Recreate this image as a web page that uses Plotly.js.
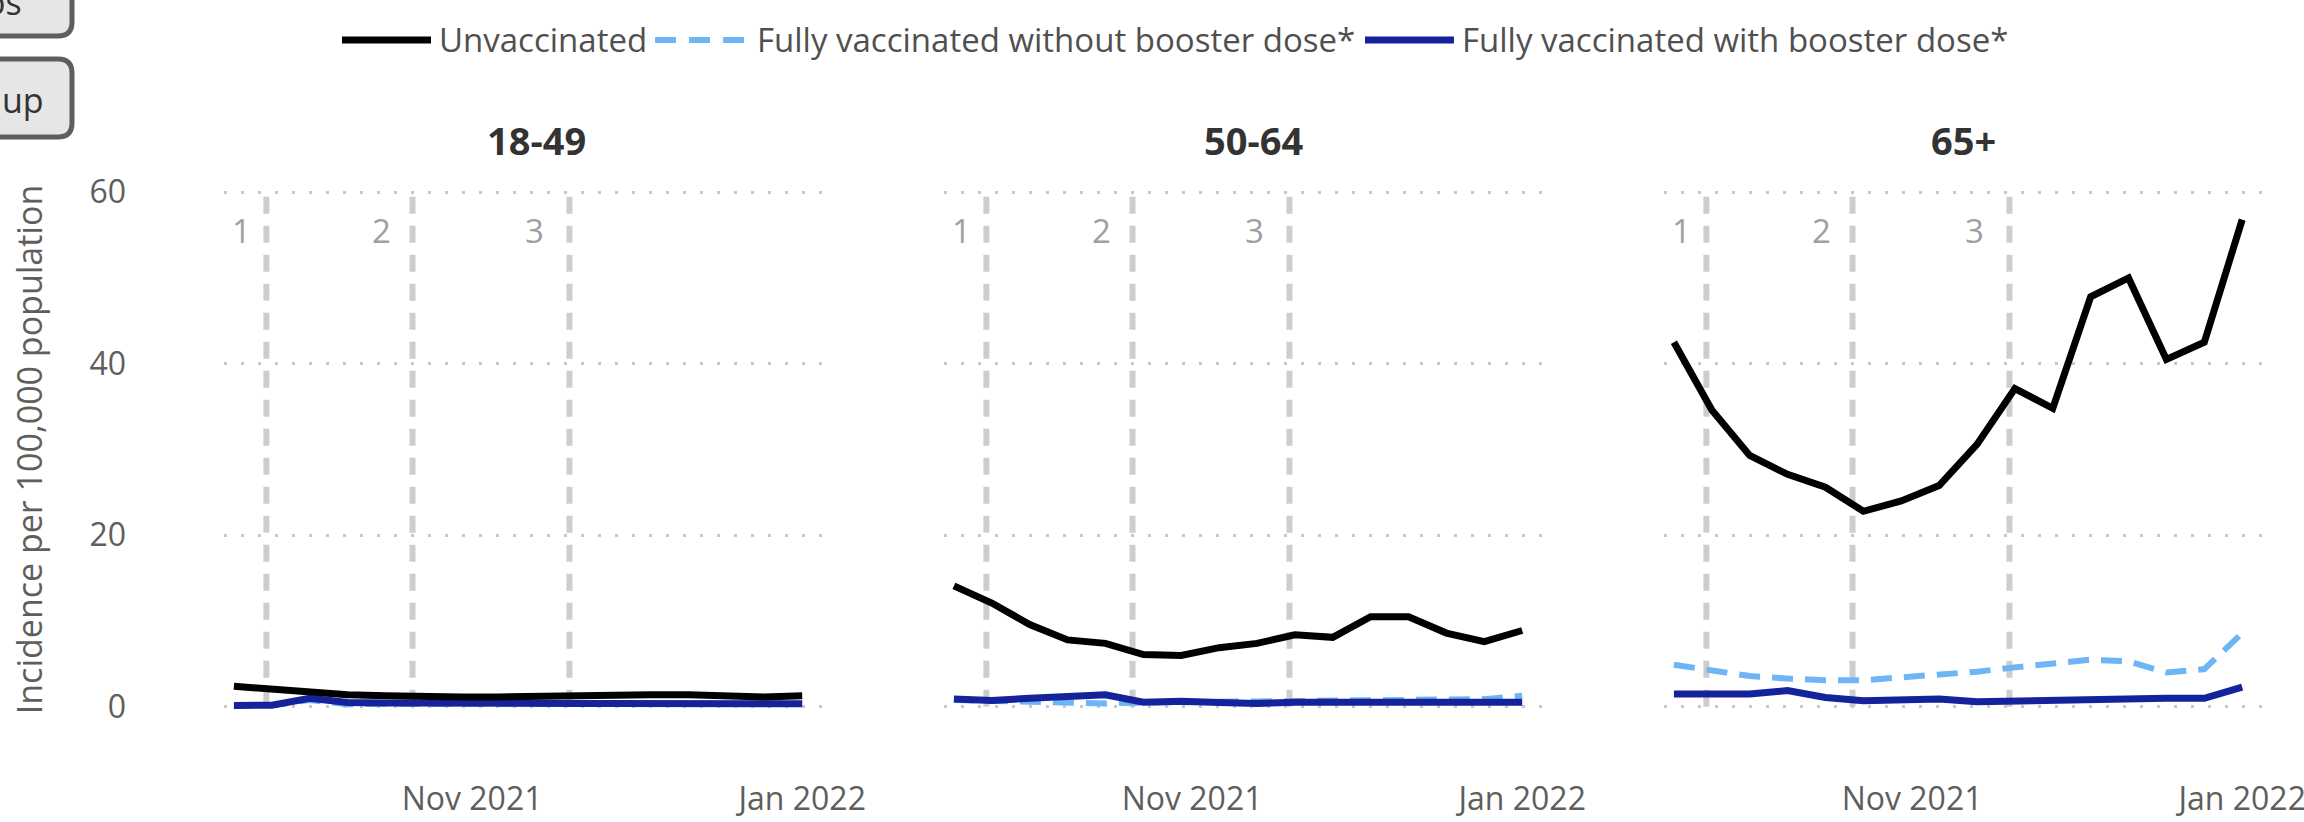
<!DOCTYPE html>
<html>
<head>
<meta charset="utf-8">
<script src="https://cdn.plot.ly/plotly-3.0.1.min.js"></script>
<style>html,body{margin:0;padding:0;background:#fff;}#chart{width:2304px;height:822px;}</style>
</head>
<body>
<div id="chart"></div>
<script>
// ---------- data ----------
const weeks = ['2021-09-18','2021-09-25','2021-10-02','2021-10-09','2021-10-16','2021-10-23','2021-10-30','2021-11-06',
               '2021-11-13','2021-11-20','2021-11-27','2021-12-04','2021-12-11','2021-12-18','2021-12-25','2022-01-01'];
const ageGroups = ['18-49', '50-64', '65+'];
const seriesNames = ['Unvaccinated', 'Fully vaccinated without booster dose*', 'Fully vaccinated with booster dose*'];

const unvax_18_49   = [2.4, 2.0, 1.6, 1.4, 1.3, 1.15, 1.15, 1.15, 1.25, 1.4, 1.3, 1.4, 1.4, 1.25, 1.15, 1.3];
const nobooster_18_49 = [0.15, 0.2, 0.8, 0.3, 0.35, 0.35, 0.35, 0.35, 0.35, 0.35, 0.35, 0.35, 0.35, 0.35, 0.35, 0.35];
const booster_18_49 = [0.15, 0.2, 1.0, 0.5, 0.45, 0.4, 0.4, 0.4, 0.4, 0.4, 0.4, 0.4, 0.4, 0.4, 0.35, 0.35];

const unvax_50_64   = [14.1, 12.1, 9.6, 7.8, 7.4, 6.1, 6.0, 6.9, 7.4, 8.4, 8.1, 10.5, 10.5, 8.6, 7.6, 8.9];
const nobooster_50_64 = [0.8, 0.7, 0.6, 0.5, 0.4, 0.5, 0.55, 0.6, 0.65, 0.7, 0.75, 0.75, 0.75, 0.8, 0.9, 1.3];
const booster_50_64 = [0.9, 0.75, 1.0, 1.3, 1.4, 0.55, 0.65, 0.5, 0.4, 0.55, 0.55, 0.5, 0.5, 0.5, 0.5, 0.55];

const unvax_65   = [42.5, 34.6, 29.3, 27.1, 25.6, 22.8, 24.0, 25.8, 30.6, 37.1, 34.8, 47.8, 50.0, 40.5, 42.5, 56.8];
const nobooster_65 = [4.9, 4.2, 3.6, 3.3, 3.1, 3.1, 3.4, 3.7, 4.1, 4.6, 5.1, 5.5, 5.3, 4.0, 4.4, 8.6];
const booster_65 = [1.5, 1.6, 1.5, 1.9, 1.1, 0.7, 0.9, 0.9, 0.6, 0.7, 0.9, 1.0, 1.0, 1.0, 1.0, 2.3];

const boosterMilestones = ['2021-09-24', '2021-10-21', '2021-11-19'];
const milestoneLabels = ['1', '2', '3'];

const yTicks = [0, 20, 40, 60];
const xTicks = ['2021-11-01', '2022-01-01'];
const xTickText = ['Nov 2021', 'Jan 2022'];

const panelData = [
  [unvax_18_49, nobooster_18_49, booster_18_49],
  [unvax_50_64, nobooster_50_64, booster_50_64],
  [unvax_65, nobooster_65, booster_65]
];

// ---------- styling ----------
const FONT = '"Open Sans", "Noto Sans", sans-serif';
const colors = ['#000000', '#6DB5F4', '#14239B'];
const dashes = ['solid', '21px,12px', 'solid'];
const widths = [7, 6, 7];

const W = 2304, H = 822;
const M = {l: 222, r: 37, t: 175, b: 98};
const PW = W - M.l - M.r, PH = H - M.t - M.b;
const px = x => (x - M.l) / PW;        // pixel -> paper x
const py = y => (H - M.b - y) / PH;    // pixel -> paper y

const traces = [];
const layout = {
  width: W, height: H,
  margin: M,
  paper_bgcolor: '#ffffff', plot_bgcolor: '#ffffff',
  showlegend: false,
  font: {family: FONT, color: '#605E5C', size: 32},
  shapes: [], annotations: []
};

for (let k = 0; k < 3; k++) {
  const sx = k === 0 ? '' : String(k + 1);
  for (let s = 0; s < 3; s++) {
    traces.push({
      type: 'scatter', mode: 'lines',
      x: weeks, y: panelData[k][s],
      xaxis: 'x' + sx, yaxis: 'y' + sx,
      name: seriesNames[s],
      line: {color: colors[s], width: widths[s], dash: dashes[s]},
      hoverinfo: 'x+y+name'
    });
  }
  const xa = {
    domain: [px(224 + 720 * k), px(827 + 720 * k)],
    type: 'date',
    range: ['2021-09-16 04:00', '2022-01-05 14:00'],
    tickvals: xTicks, ticktext: xTickText,
    showgrid: false, zeroline: false, showline: false, ticks: '',
    ticklabelstandoff: 53,
    ticklabeloverflow: 'allow',
    tickfont: {family: FONT, size: 32, color: '#605E5C'},
    anchor: 'y' + sx, fixedrange: true
  };
  const ya = {
    domain: [0, 1],
    range: [-2, 62],
    tickvals: yTicks,
    showgrid: true, gridcolor: '#C8C8C8', gridwidth: 2.5, griddash: '3px,14px',
    zeroline: false, showline: false, ticks: '',
    showticklabels: k === 0,
    tickfont: {family: FONT, size: 32, color: '#605E5C'},
    anchor: 'x' + sx, fixedrange: true
  };
  if (k === 0) {
    ya.ticklabelstandoff = 97;
    ya.automargin = true;
    ya.title = {text: 'Incidence per 100,000 population', standoff: 36,
                font: {family: FONT, size: 34, color: '#605E5C'}};
  }
  layout['xaxis' + sx] = xa;
  layout['yaxis' + sx] = ya;

  boosterMilestones.forEach((d, i) => {
    layout.shapes.push({
      type: 'line', xref: 'x' + sx, yref: 'y' + sx,
      x0: d, x1: d, y0: 0, y1: 60, layer: 'below',
      line: {color: '#CDCDCD', width: 6, dash: '17px,12px'}
    });
    layout.annotations.push({
      xref: 'x' + sx, yref: 'y' + sx, x: d, y: 55.5,
      text: milestoneLabels[i], showarrow: false,
      xanchor: 'center', yanchor: 'middle', xshift: [-25, -31, -35][i],
      font: {family: FONT, size: 33, color: '#A0A0A0'}
    });
  });

  layout.annotations.push({
    xref: 'paper', yref: 'paper', x: px([536, 1253, 1963][k]), y: py(140),
    text: '<b>' + ageGroups[k] + '</b>', showarrow: false,
    xanchor: 'center', yanchor: 'middle',
    font: {family: FONT, size: 38, color: '#333333'}
  });
}

// draw order: dashed (without booster) first, then booster, then unvaccinated on top
const ordered = [];
[1, 2, 0].forEach(s => { for (let k = 0; k < 3; k++) ordered.push(traces[k * 3 + s]); });

// ---------- manual legend ----------
const legendY = 40;
const legendItems = [
  {x0: 342, x1: 431, tx: 437},
  {x0: 655, x1: 749, tx: 755},
  {x0: 1365, x1: 1454, tx: 1460}
];
legendItems.forEach((it, s) => {
  layout.shapes.push({
    type: 'line', xref: 'paper', yref: 'paper',
    x0: px(it.x0), x1: px(it.x1), y0: py(legendY), y1: py(legendY),
    line: {color: colors[s], width: widths[s], dash: s === 1 ? '21px,13px' : 'solid'}
  });
  layout.annotations.push({
    xref: 'paper', yref: 'paper', x: px(it.tx), y: py(legendY),
    text: seriesNames[s], showarrow: false, xanchor: 'left', yanchor: 'middle',
    font: {family: FONT, size: 33, color: '#505050'}
  });
});

// ---------- partial buttons at top-left ----------
function roundRect(x0, y0, x1, y1, r) {
  const X = v => px(v), Y = v => py(v);
  const rx = r / PW, ry = r / PH;
  return `M ${X(x0)} ${Y(y0)} L ${X(x1) - rx} ${Y(y0)} Q ${X(x1)} ${Y(y0)} ${X(x1)} ${Y(y0) - ry} ` +
         `L ${X(x1)} ${Y(y1) + ry} Q ${X(x1)} ${Y(y1)} ${X(x1) - rx} ${Y(y1)} L ${X(x0)} ${Y(y1)} Z`;
}
layout.shapes.push({type: 'path', xref: 'paper', yref: 'paper', path: roundRect(-20, -20, 72, 36, 14),
  fillcolor: '#E6E6E6', line: {color: '#5E5E5E', width: 5}});
layout.shapes.push({type: 'path', xref: 'paper', yref: 'paper', path: roundRect(-20, 59, 72, 137, 14),
  fillcolor: '#E6E6E6', line: {color: '#5E5E5E', width: 5}});
layout.annotations.push({xref: 'paper', yref: 'paper', x: px(46), y: py(100), text: 'up', showarrow: false,
  xanchor: 'right', yanchor: 'middle', font: {family: FONT, size: 34, color: '#333333'}});
layout.annotations.push({xref: 'paper', yref: 'paper', x: px(24), y: py(2), text: 'os', showarrow: false,
  xanchor: 'right', yanchor: 'middle', font: {family: FONT, size: 34, color: '#333333'}});

Plotly.newPlot('chart', ordered, layout, {displayModeBar: false, staticPlot: false, responsive: false});
</script>
</body>
</html>
